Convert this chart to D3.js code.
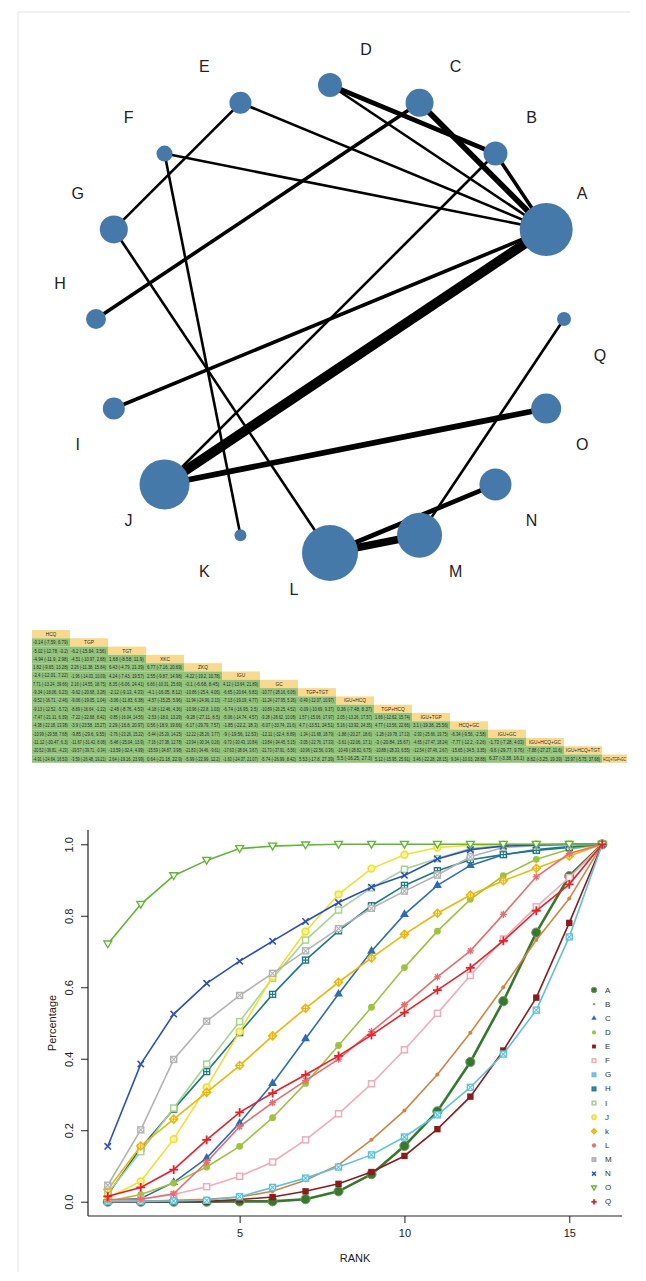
<!DOCTYPE html>
<html><head><meta charset="utf-8">
<script src="https://cdn.jsdelivr.net/npm/d3@7"></script>
<style>body{margin:0;background:#fff}svg{display:block}</style>
</head><body>
<script>
// ---------------- network data ----------------
const netNodes = ["A","B","C","D","E","F","G","H","I","J","K","L","M","N","O","Q"];
const netNodeSizes = [702,144,196,144,121,64,196,100,121,625,36,784,506,256,225,49];
const netEdges = [
  ["J","A",8],["L","M",6],["C","A",4],["J","O",4],["L","N",3],["D","B",3],
  ["H","C",2],["I","A",2],["B","A",2],["D","A",1],["E","A",1],["E","G",1],
  ["F","A",1],["F","K",1],["G","L",1],["J","B",1],["M","Q",1]
];
// ---------------- league table data ----------------
const treatments = ["HCQ","TGP","TGT","XKC","ZKQ","IGU","GC","TGP+TGT","IGU+HCQ","TGP+HCQ","IGU+TGP","HCQ+GC","IGU+GC","IGU+HCQ+GC","IGU+HCQ+TGT","HCQ+TGP+GC"];
const leagueRows = [
  [],
  ["-0.14 (-7.59, 6.79)"],
  ["-5.02 (-12.78, -0.2)","-6.2 (-15.64, 3.56)"],
  ["-4.94 (-11.9, 2.98)","-4.51 (-10.97, 2.68)","1.68 (-8.58, 11.9)"],
  ["1.82 (-9.65, 13.28)","2.26 (-11.38, 15.84)","6.43 (-4.79, 21.39)","6.77 (-7.16, 20.69)"],
  ["-2.4 (-12.01, 7.22)","-1.96 (-14.03, 10.09)","4.24 (-7.43, 19.57)","2.55 (-9.87, 14.98)","-4.22 (-19.2, 10.78)"],
  ["7.71 (-13.24, 39.66)","2.16 (-14.55, 18.75)","8.35 (-6.06, 24.41)","6.66 (-10.31, 25.69)","-0.1 (-6.68, 8.45)","4.12 (-13.64, 21.89)"],
  ["-9.34 (-18.06, 0.23)","-9.62 (-20.68, 3.28)","-2.12 (-9.13, 4.33)","-4.1 (-16.05, 8.12)","-10.86 (-25.4, 4.06)","-6.65 (-20.64, 6.83)","-10.77 (-28.16, 6.06)"],
  ["-9.52 (-16.71, -2.46)","-9.06 (-19.05, 1.04)","-3.06 (-11.83, 6.38)","-4.57 (-15.25, 5.96)","-11.94 (-24.96, 2.13)","-7.13 (-19.19, 4.77)","-11.24 (-27.95, 5.26)","-0.49 (-12.07, 10.97)"],
  ["-9.13 (-12.52, -5.72)","-8.89 (-16.64, -1.22)","-2.48 (-8.76, 4.53)","-4.18 (-12.46, 4.36)","-10.96 (-22.8, 1.03)","-6.74 (-16.95, 3.5)","-10.89 (-26.25, 4.52)","-0.09 (-10.69, 9.37)","0.36 (-7.48, 8.37)"],
  ["-7.47 (-21.11, 6.39)","-7.22 (-22.68, 8.42)","-0.85 (-16.04, 14.56)","-2.53 (-18.0, 13.29)","-9.28 (-27.11, 8.5)","-5.06 (-14.74, 4.57)","-9.28 (-28.62, 10.08)","1.57 (-15.06, 17.97)","2.05 (-13.26, 17.57)","1.66 (-12.62, 15.74)"],
  ["-4.38 (-22.18, 13.38)","-3.9 (-23.58, 15.27)","2.29 (-16.8, 20.97)","0.56 (-18.9, 19.66)","-6.17 (-29.79, 7.57)","-1.85 (-22.2, 18.3)","-6.07 (-33.74, 21.6)","4.7 (-13.51, 24.51)","5.16 (-13.92, 24.35)","4.77 (-13.56, 22.66)","3.1 (-19.38, 25.56)"],
  ["-10.99 (-29.58, 7.68)","-9.85 (-29.6, 9.55)","-3.76 (-23.26, 15.22)","-5.44 (-25.29, 14.25)","-12.22 (-28.26, 3.77)","-9 (-19.56, 12.53)","-12.11 (-32.4, 8.89)","-1.34 (-21.68, 18.79)","-1.88 (-20.27, 18.6)","-1.28 (-19.78, 17.13)","-2.93 (-25.66, 19.75)","-6.34 (-9.56, -2.58)"],
  ["-11.12 (-30.47, 6.3)","-11.67 (-31.42, 8.08)","-5.48 (-25.04, 13.9)","-7.16 (-27.38, 12.78)","-13.94 (-30.34, 0.26)","-9.73 (-30.43, 10.84)","-13.84 (-34.45, 5.15)","-3.05 (-22.76, 17.33)","-3.61 (-22.06, 17.1)","-3 (-20.84, 15.67)","-4.65 (-27.47, 18.24)","-7.77 (-12.2, -3.26)","-1.73 (-7.28, 4.03)"],
  ["-20.52 (-36.81, -4.23)","-19.57 (-39.71, -0.34)","-13.59 (-32.4, 4.99)","-15.59 (-34.87, 3.98)","-21.83 (-34.46, -9.61)","-17.63 (-38.04, 3.67)","-21.73 (-37.91, -5.56)","-10.96 (-22.56, 0.36)","-10.49 (-28.82, 6.75)","-10.88 (-28.33, 6.55)","-12.54 (-37.46, 2.67)","-15.65 (-34.5, 3.35)","-9.6 (-29.77, 9.76)","-7.88 (-27.27, 11.6)"],
  ["-4.91 (-24.64, 16.53)","-3.59 (-26.48, 19.21)","2.64 (-19.16, 23.99)","0.64 (-21.18, 22.9)","-5.99 (-22.99, 12.2)","-1.63 (-24.37, 21.07)","-5.74 (-26.99, 8.42)","5.53 (-17.8, 27.39)","5.5 (-16.25, 27.3)","5.12 (-15.95, 25.91)","3.46 (-22.28, 28.15)","9.34 (-10.03, 28.88)","6.37 (-3.38, 16.1)","8.82 (-3.25, 19.39)","15.97 (-5.75, 37.68)"]
];
// ---------------- rank (cumulative) data ----------------
const ranks = [1,2,3,4,5,6,7,8,9,10,11,12,13,14,15,16];
const rankLabels = ["A","B","C","D","E","F","G","H","I","J","k","L","M","N","O","Q"];
const rankA = [0,0,0,0,0.001,0.001,0.007,0.029,0.077,0.156,0.253,0.391,0.561,0.753,0.911,1];
const rankB = [0,0.001,0.004,0.007,0.013,0.029,0.060,0.103,0.173,0.255,0.356,0.473,0.600,0.732,0.848,1];
const rankC = [0.004,0.009,0.054,0.122,0.220,0.331,0.456,0.581,0.701,0.804,0.885,0.941,0.971,0.985,0.994,1];
const rankD = [0.001,0.020,0.052,0.097,0.155,0.235,0.331,0.437,0.544,0.655,0.757,0.846,0.912,0.958,0.986,1];
const rankE = [0,0,0,0.001,0.006,0.013,0.029,0.050,0.083,0.128,0.203,0.294,0.423,0.571,0.780,1];
const rankF = [0.001,0.007,0.020,0.042,0.071,0.111,0.173,0.246,0.330,0.425,0.527,0.633,0.735,0.825,0.907,1];
const rankG = [0.001,0.001,0.002,0.004,0.014,0.040,0.066,0.097,0.131,0.181,0.243,0.320,0.413,0.536,0.741,1];
const rankH = [0.020,0.150,0.259,0.364,0.473,0.580,0.676,0.758,0.828,0.885,0.926,0.957,0.971,0.983,0.991,1];
const rankI = [0.024,0.140,0.262,0.385,0.504,0.625,0.732,0.816,0.878,0.930,0.960,0.988,0.997,0.998,0.999,1];
const rankJ = [0.010,0.057,0.175,0.320,0.476,0.629,0.756,0.860,0.932,0.971,0.991,0.997,0.999,1,1,1];
const rankK = [0.034,0.156,0.231,0.306,0.381,0.464,0.541,0.614,0.682,0.748,0.807,0.858,0.898,0.933,0.967,1];
const rankL = [0.006,0.007,0.022,0.111,0.210,0.277,0.339,0.399,0.476,0.551,0.629,0.702,0.804,0.909,0.974,1];
const rankM = [0.046,0.201,0.398,0.505,0.577,0.639,0.702,0.764,0.821,0.869,0.914,0.965,0.991,0.996,0.999,1];
const rankN = [0.155,0.385,0.525,0.611,0.673,0.729,0.784,0.837,0.880,0.913,0.959,0.985,0.995,0.998,1,1];
const rankO = [0.721,0.832,0.912,0.955,0.988,0.995,0.998,1,1,1,1,1,1,1,1,1];
const rankQ = [0.015,0.040,0.090,0.173,0.250,0.304,0.355,0.408,0.466,0.529,0.592,0.654,0.730,0.814,0.888,1];
const rankValues = [rankA,rankB,rankC,rankD,rankE,rankF,rankG,rankH,rankI,rankJ,rankK,rankL,rankM,rankN,rankO,rankQ];
const xTicks = [5,10,15];
const yTicks = [0,0.2,0.4,0.6,0.8,1.0];

// ---------------- styles ----------------
const rankColors = ["#357a2c","#d4843e","#2a6db4","#9cc43a","#8e1b1b","#f5a9b8","#5cc3de","#1c7b82","#a3d68c","#efe22a","#f2b500","#ec6b6f","#b3b3b3","#2b4fc2","#5cb82e","#ee1d26"];
const rankShapes = ["circleBig","dot","triangle","circle","square","squareOpen","squareX","squarePlus","squareOpen","circleRing","diamondPlus","asterisk","squareX","cross","triDownOpen","plus"];

const W = 646, H = 1281;
const svg = d3.select("body").append("svg").attr("width", W).attr("height", H)
  .style("font-family", "'Liberation Sans', Arial, sans-serif");

// faint frame
svg.append("line").attr("x1",18).attr("x2",18).attr("y1",12).attr("y2",1272).attr("stroke","#e2e2e2");
svg.append("line").attr("x1",18).attr("x2",630).attr("y1",12).attr("y2",12).attr("stroke","#e2e2e2");

// ================= NETWORK =================
const cx = 330, cy = 319, R = 234;
const angle = d3.scaleLinear().domain([0, netNodes.length]).range([Math.PI/8, Math.PI/8 + 2*Math.PI]);
const nodePos = {};
netNodes.forEach((n,i) => {
  const a = angle(i);
  nodePos[n] = {x: cx + R*Math.cos(a), y: cy - R*Math.sin(a), i};
});
const rScale = d3.scaleSqrt().domain([0, d3.max(netNodeSizes)]).range([0, 28]);
const wScale = d3.scaleLinear().domain([1, 8]).range([2.6, 9.8]);
const gNet = svg.append("g");
gNet.selectAll("line.edge").data(netEdges).join("line")
  .attr("x1", d => nodePos[d[0]].x).attr("y1", d => nodePos[d[0]].y)
  .attr("x2", d => nodePos[d[1]].x).attr("y2", d => nodePos[d[1]].y)
  .attr("stroke", "#000").attr("stroke-width", d => wScale(d[2]));
gNet.selectAll("circle").data(netNodes).join("circle")
  .attr("cx", d => nodePos[d].x).attr("cy", d => nodePos[d].y)
  .attr("r", (d,i) => rScale(netNodeSizes[i]))
  .attr("fill", "#4479aa");
const lab = 36;
gNet.selectAll("text").data(netNodes).join("text")
  .attr("x", (d,i) => nodePos[d].x + ((i < 4 || i >= 12) ? lab : -lab))
  .attr("y", (d,i) => nodePos[d].y + (i < 8 ? -lab : lab))
  .attr("text-anchor","middle").attr("dominant-baseline","central")
  .attr("font-size", 16).attr("fill", "#222").text(d => d);

// ================= LEAGUE TABLE =================
const tx0 = 32, colW = 38, lastW = 25, ty0 = 630, rowH = 8.3;
const colX = i => tx0 + i*colW;
const colWidth = i => i === treatments.length - 1 ? lastW : colW;
const gT = svg.append("g").attr("font-family","'Liberation Sans Narrow','Liberation Sans',Arial,sans-serif");
function cellText(txt, x0, w, yMid, centered, fs) {
  const t = gT.append("text").attr("font-size", fs).attr("fill","#2a2a2a")
    .attr("dominant-baseline","central").text(txt);
  const nat = t.node().getComputedTextLength();
  const avail = w - (centered ? 2 : 3);
  const sx = Math.min(1, avail / nat);
  const px = centered ? x0 + w/2 : x0 + 1;
  t.attr("text-anchor", centered ? "middle" : "start")
   .attr("transform", `translate(${px},${yMid}) scale(${sx},1)`);
}
treatments.forEach((t, i) => {
  const y = ty0 + i*rowH;
  leagueRows[i].forEach((v, j) => {
    gT.append("rect").attr("x", colX(j)).attr("y", y).attr("width", colWidth(j)).attr("height", rowH)
      .attr("fill", "#93c47b");
    cellText(v, colX(j), colWidth(j), y + rowH/2 + 0.3, false, 4.6);
  });
  gT.append("rect").attr("x", colX(i)).attr("y", y).attr("width", colWidth(i)).attr("height", rowH)
    .attr("fill", "#fad98d");
  cellText(t, colX(i), colWidth(i), y + rowH/2 + 0.3, true, 4.8);
});

// ================= RANK PLOT =================
const x = d3.scaleLinear().domain([0.4, 16.6]).range([88, 622]);
const y = d3.scaleLinear().domain([-0.04, 1.04]).range([1216, 830]);
const gR = svg.append("g");
gR.append("line").attr("x1", 88).attr("x2", 88).attr("y1", y.range()[1]).attr("y2", y.range()[0]).attr("stroke","#222").attr("stroke-width",1.2);
gR.append("line").attr("x1", 88).attr("x2", 622).attr("y1", 1216).attr("y2", 1216).attr("stroke","#222").attr("stroke-width",1.2);
const ax = gR.append("g").attr("transform","translate(0,1216)")
  .call(d3.axisBottom(x).tickValues(xTicks).tickSize(7).tickPadding(6).tickFormat(d3.format("d")));
ax.select(".domain").remove();
ax.selectAll("text").attr("font-size", 11).attr("fill","#222").attr("font-family","'Liberation Sans', Arial");
ax.selectAll("line").attr("stroke","#222");
const ay = gR.append("g").attr("transform","translate(88,0)")
  .call(d3.axisLeft(y).tickValues(yTicks).tickSize(7).tickFormat(d3.format(".1f")));
ay.select(".domain").remove();
ay.selectAll("line").attr("stroke","#222");
ay.selectAll("text").attr("font-size", 11).attr("fill","#222").attr("font-family","'Liberation Sans', Arial")
  .attr("text-anchor","middle").attr("x", 0).attr("dy", 0)
  .attr("transform", "translate(-15,0) rotate(-90)");
gR.append("text").attr("x", 355).attr("y", 1262).attr("text-anchor","middle").attr("font-size",11).attr("fill","#222").text("RANK");
gR.append("text").attr("transform","translate(56,1023) rotate(-90)").attr("text-anchor","middle")
  .attr("font-size",11).attr("fill","#222").text("Percentage");

function marker(g, shape, color, px, py, s) {
  const k = s || 1;
  switch (shape) {
    case "circleBig": g.append("circle").attr("cx",px).attr("cy",py).attr("r",4.6*k).attr("fill",color).attr("stroke","#6c9e62").attr("stroke-width",1); break;
    case "dot": g.append("circle").attr("cx",px).attr("cy",py).attr("r",2*k).attr("fill",color); break;
    case "circle": g.append("circle").attr("cx",px).attr("cy",py).attr("r",3.4*k).attr("fill",color); break;
    case "circleRing": g.append("circle").attr("cx",px).attr("cy",py).attr("r",3.4*k).attr("fill","#f7f0a0").attr("stroke",color).attr("stroke-width",1.6); break;
    case "triangle": g.append("path").attr("d", d3.symbol(d3.symbolTriangle, 34*k*k)()).attr("transform",`translate(${px},${py})`).attr("fill",color); break;
    case "square": g.append("rect").attr("x",px-3.2*k).attr("y",py-3.2*k).attr("width",6.4*k).attr("height",6.4*k).attr("fill",color); break;
    case "squareOpen": g.append("rect").attr("x",px-3*k).attr("y",py-3*k).attr("width",6*k).attr("height",6*k).attr("fill","#fff").attr("stroke",color).attr("stroke-width",1.5); break;
    case "squareX": {
      g.append("rect").attr("x",px-3*k).attr("y",py-3*k).attr("width",6*k).attr("height",6*k).attr("fill","#fff").attr("stroke",color).attr("stroke-width",1.4);
      g.append("path").attr("d",`M${px-3*k},${py-3*k}L${px+3*k},${py+3*k}M${px+3*k},${py-3*k}L${px-3*k},${py+3*k}`).attr("stroke",color).attr("stroke-width",1.1);
      break; }
    case "squarePlus": {
      g.append("rect").attr("x",px-3*k).attr("y",py-3*k).attr("width",6*k).attr("height",6*k).attr("fill","#fff").attr("stroke",color).attr("stroke-width",1.4);
      g.append("path").attr("d",`M${px-3*k},${py}L${px+3*k},${py}M${px},${py-3*k}L${px},${py+3*k}`).attr("stroke",color).attr("stroke-width",1.1);
      break; }
    case "diamondPlus": {
      const r = 4*k;
      g.append("path").attr("d",`M${px},${py-r}L${px+r},${py}L${px},${py+r}L${px-r},${py}Z`).attr("fill","#fff").attr("stroke",color).attr("stroke-width",1.5);
      g.append("path").attr("d",`M${px-r},${py}L${px+r},${py}M${px},${py-r}L${px},${py+r}`).attr("stroke",color).attr("stroke-width",1.1);
      break; }
    case "asterisk": {
      const r = 3.6*k;
      g.append("path").attr("d",`M${px-r},${py}L${px+r},${py}M${px},${py-r}L${px},${py+r}M${px-r*0.7},${py-r*0.7}L${px+r*0.7},${py+r*0.7}M${px+r*0.7},${py-r*0.7}L${px-r*0.7},${py+r*0.7}`).attr("stroke",color).attr("stroke-width",1.3);
      break; }
    case "cross": {
      const r = 3.2*k;
      g.append("path").attr("d",`M${px-r},${py-r}L${px+r},${py+r}M${px+r},${py-r}L${px-r},${py+r}`).attr("stroke",color).attr("stroke-width",1.5);
      break; }
    case "plus": {
      const r = 4.4*k;
      g.append("path").attr("d",`M${px-r},${py}L${px+r},${py}M${px},${py-r}L${px},${py+r}`).attr("stroke",color).attr("stroke-width",1.8);
      break; }
    case "triDownOpen": {
      const r = 4*k;
      g.append("path").attr("d",`M${px-r},${py-r*0.75}L${px+r},${py-r*0.75}L${px},${py+r*0.95}Z`).attr("fill","#fff").attr("stroke",color).attr("stroke-width",1.3);
      break; }
  }
}

const line = d3.line().x((d,i) => x(ranks[i])).y(d => y(d));
rankValues.forEach((vals, si) => {
  const g = gR.append("g");
  g.append("path").attr("d", line(vals)).attr("fill","none").attr("stroke", rankColors[si])
    .attr("stroke-width", si === 0 ? 2.6 : 1.6);
  vals.forEach((v, i) => marker(g, rankShapes[si], rankColors[si], x(ranks[i]), y(v)));
});

// legend
const lg = gR.append("g");
rankLabels.forEach((l, i) => {
  const ly = 990 + i*14.13;
  marker(lg, rankShapes[i], rankColors[i], 594, ly, 0.6);
  lg.append("text").attr("x", 605).attr("y", ly).attr("dominant-baseline","central")
    .attr("font-size", 8).attr("fill","#333").text(l);
});
</script>
</body></html>
